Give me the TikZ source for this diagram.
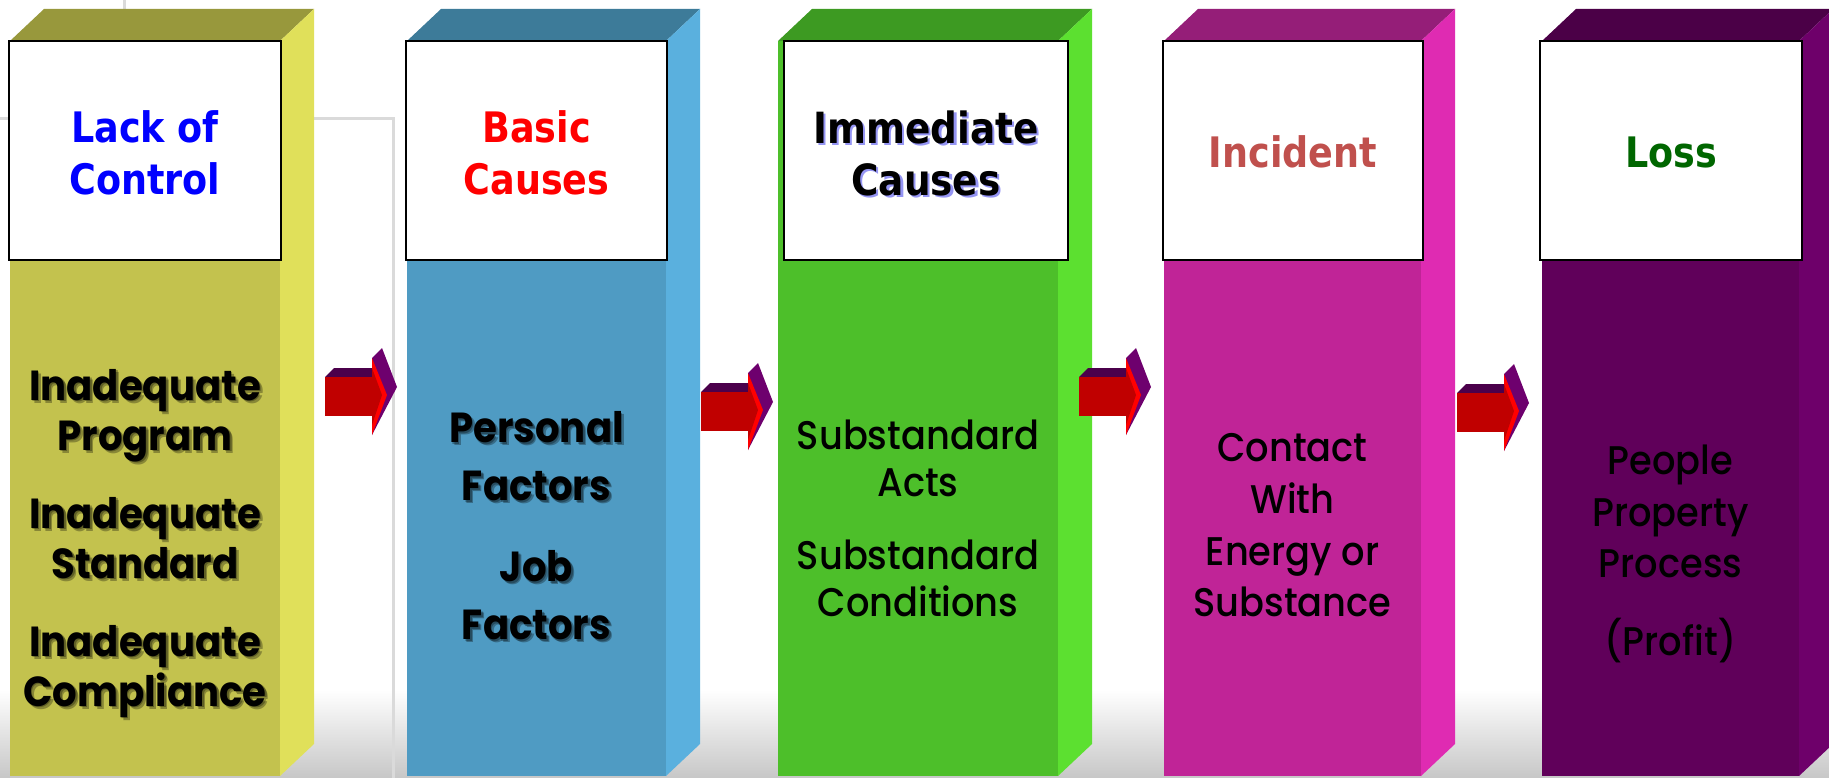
\documentclass[tikz,border=0pt]{standalone}
\usepackage{fontspec}
\setmainfont{DejaVu Sans}
\newfontfamily\headfont[FakeStretch=0.87]{DejaVu Sans}
\newfontfamily\comic[FakeStretch=0.92]{Poppins}
\newfontfamily\comicmed[FakeStretch=0.92]{Poppins Medium}

\definecolor{yfront}{RGB}{195,194,78}
\definecolor{ytop}{RGB}{152,152,60}
\definecolor{yside}{RGB}{224,224,90}
\definecolor{bfront}{RGB}{79,155,195}
\definecolor{btop}{RGB}{61,123,153}
\definecolor{bside}{RGB}{90,176,222}
\definecolor{gfront}{RGB}{77,191,42}
\definecolor{gtop}{RGB}{61,154,34}
\definecolor{gside}{RGB}{92,224,48}
\definecolor{mfront}{RGB}{192,36,151}
\definecolor{mtop}{RGB}{149,30,120}
\definecolor{mside}{RGB}{223,43,178}
\definecolor{pfront}{RGB}{96,0,90}
\definecolor{ptop}{RGB}{75,0,71}
\definecolor{pside}{RGB}{110,0,106}
\definecolor{arrbody}{RGB}{192,0,0}
\definecolor{arrtop}{RGB}{75,0,75}
\definecolor{arrside}{RGB}{110,0,110}
\definecolor{arrbevel}{RGB}{255,0,0}
\definecolor{incred}{RGB}{192,80,77}
\definecolor{lossgreen}{RGB}{0,102,0}
\definecolor{shadowblue}{RGB}{20,20,230}
\definecolor{guide}{RGB}{218,218,218}

\newcommand\drawpillar[5]{%
  \fill[#4] (#1,41) -- (#1+34,9) -- (#2+34,9) -- (#2,41) -- cycle;
  \fill[#5] (#2,41) -- (#2+34,9) -- (#2+34,744) -- (#2,776) -- cycle;
  \fill[#3] (#1,41) rectangle (#2,776);
}
\newcommand\drawarrow[2]{%
  \begin{scope}[shift={(#1,#2)}]
    \fill[arrtop] (0,0) -- (9,-9) -- (47,-9) -- (47,0) -- cycle;
    \fill[arrbody] (0,0) rectangle (47,39);
    \fill[arrside] (47,-19) -- (57,-29) -- (72,10) -- (47,58) -- cycle;
    \fill[arrbevel] (47,-19) -- (62,18) -- (47,58) -- cycle;
    \fill[arrbody] (47,-9) -- (57,18) -- (47,48) -- cycle;
  \end{scope}
}

\begin{document}
\begin{tikzpicture}[x=1pt,y=-1pt,
  hbox/.style={draw=black, line width=1.6pt, fill=white, inner sep=0pt, minimum height=219pt},
  htext/.style={font=\headfont\bfseries\fontsize{42}{52}\selectfont, align=center, inner sep=0pt},
  boldbody/.style={font=\comic\bfseries\fontsize{42}{#1}\selectfont, align=center, inner sep=0pt},
  medbody/.style={font=\comicmed\fontsize{40}{#1}\selectfont, align=center, inner sep=0pt},
  tshadow/.style={text=black, opacity=0.3},
]
\useasboundingbox (0,0) rectangle (1829,778);
\clip (0,0) rectangle (1829,778);
\fill[white] (0,0) rectangle (1829,778);
\shade[top color=white, bottom color=black!22] (0,690) rectangle (1829,778);

% faint background guide lines
\draw[guide, line width=3pt] (0,119) -- (393,119) -- (393,778);
\draw[guide, line width=3pt] (124,0) -- (124,10);

% pillars
\drawpillar{10}{280}{yfront}{ytop}{yside}
\drawpillar{407}{666}{bfront}{btop}{bside}
\drawpillar{778}{1058}{gfront}{gtop}{gside}
\drawpillar{1164}{1421}{mfront}{mtop}{mside}
\drawpillar{1542}{1799}{pfront}{ptop}{pside}

% header boxes
\node[hbox, minimum width=272pt] (h1) at (145,150.5) {};
\node[hbox, minimum width=261pt] (h2) at (536.5,150.5) {};
\node[hbox, minimum width=284pt] (h3) at (926,150.5) {};
\node[hbox, minimum width=260pt] (h4) at (1293,150.5) {};
\node[hbox, minimum width=262pt] (h5) at (1671,150.5) {};

% header texts
\node[htext, text=blue] (t1) at (145,153) {Lack of\\Control};
\node[htext, text=red] (t2) at (536.5,153) {Basic\\Causes};
\node[htext, text=shadowblue, opacity=0.45, font=\headfont\bfseries\fontsize{43}{52}\selectfont] (t3s) at (928.5,155.5) {Immediate\\Causes};
\node[htext, text=black, font=\headfont\bfseries\fontsize{43}{52}\selectfont] (t3) at (926,153) {Immediate\\Causes};
\node[htext, text=incred] (t4) at (1293,152) {Incident};
\node[htext, text=lossgreen] (t5) at (1671,152) {Loss};

% body texts (soft drop shadow, then text)
\node[boldbody=50, tshadow] (b1s) at (148,546.5) {Inadequate\\Program\\[28pt]Inadequate\\Standard\\[28pt]Inadequate\\Compliance};
\node[boldbody=50, tshadow] (b1t) at (146.5,545) {Inadequate\\Program\\[28pt]Inadequate\\Standard\\[28pt]Inadequate\\Compliance};
\node[boldbody=50] (b1) at (145,543.5) {Inadequate\\Program\\[28pt]Inadequate\\Standard\\[28pt]Inadequate\\Compliance};
\node[boldbody=58, tshadow] (b2s) at (539.5,529) {Personal\\Factors\\[23pt]Job\\Factors};
\node[boldbody=58, tshadow] (b2t) at (538,527.5) {Personal\\Factors\\[23pt]Job\\Factors};
\node[boldbody=58] (b2) at (536.5,526) {Personal\\Factors\\[23pt]Job\\Factors};
\node[medbody=47] (b3) at (918,518.5) {Substandard\\Acts\\[26pt]Substandard\\Conditions};
\node[medbody=51.7] (b4) at (1292.5,525.5) {Contact\\With\\Energy or\\Substance};
\node[medbody=51.5] (b5) at (1670.5,554) {People\\Property\\Process\\[26pt](Profit)};

% arrows between pillars
\drawarrow{325}{377}
\drawarrow{701}{392}
\drawarrow{1079}{377}
\drawarrow{1457}{393}
\end{tikzpicture}
\end{document}
